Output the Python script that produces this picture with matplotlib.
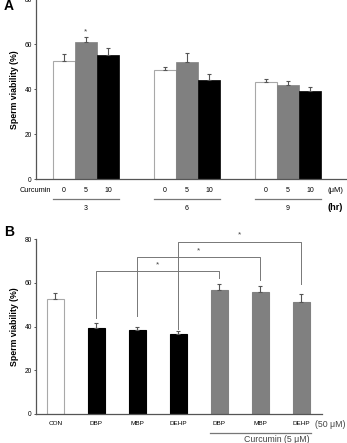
import matplotlib
matplotlib.use("Agg")
import matplotlib.pyplot as plt
import matplotlib.transforms as mtransforms
import numpy as np

plt.rcParams['font.family'] = ['Liberation Sans', 'DejaVu Sans']

# ---- data: panel A (sperm viability vs curcumin over time) ----
a_hours = ['3', '6', '9']
a_doses = ['0', '5', '10']
a_mean_0 = [52.6, 48.4, 43.3]
a_mean_5 = [60.8, 52.2, 42.0]
a_mean_10 = [55.1, 43.9, 39.0]
a_err_0 = [2.9, 1.3, 1.1]
a_err_5 = [2.5, 3.7, 1.7]
a_err_10 = [3.0, 2.7, 2.1]
a_star_y = 65.5  # star over 5 uM at 3 hr

# ---- data: panel B (phthalates +/- curcumin) ----
b_labels = ['CON', 'DBP', 'MBP', 'DEHP', 'DBP', 'MBP', 'DEHP']
b_mean = [52.6, 39.2, 38.5, 36.6, 56.6, 55.7, 51.2]
b_err = [2.6, 2.3, 1.4, 1.3, 3.0, 2.7, 3.7]
b_pairs = [(1, 4), (2, 5), (3, 6)]
b_bracket_top = [65.5, 72.0, 78.9]
b_leg_left = [44.0, 45.0, 39.0]
b_leg_right = [62.1, 61.3, 59.4]

W, H = 347, 443
fig = plt.figure(figsize=(W / 100, H / 100), dpi=100)


def fx(px):
    return px / W


def fy(py):
    return 1 - py / H


SPINE = '#555555'
GREY = '#808080'


def style_axes(ax):
    for s in ['top', 'right']:
        ax.spines[s].set_visible(False)
    for s in ['left', 'bottom']:
        ax.spines[s].set_color(SPINE)
        ax.spines[s].set_linewidth(0.9)
    ax.set_ylim(0, 80)
    ax.set_yticks([0, 20, 40, 60, 80])
    ax.tick_params(axis='y', length=1.8, width=0.7, color=SPINE, pad=1.2, labelsize=4.8)
    ax.tick_params(axis='x', length=0)


# ================= Panel A =================
axA = fig.add_axes([fx(36), fy(179.3), fx(311), (180.3) / H])
style_axes(axA)
axA.set_xlim(-0.495, 2.584)
bw = 0.218
x = np.arange(len(a_hours))
err_kw = dict(ecolor=SPINE, elinewidth=0.8, capsize=1.2, capthick=0.8)
axA.bar(x - bw, a_mean_0, bw, color='white', edgecolor='#a8a8a8', linewidth=0.8,
        yerr=[np.zeros(3), a_err_0], error_kw=err_kw, zorder=2)
axA.bar(x, a_mean_5, bw, color=GREY, edgecolor=GREY, linewidth=0.5,
        yerr=[np.zeros(3), a_err_5], error_kw=err_kw, zorder=2)
axA.bar(x + bw, a_mean_10, bw, color='black', edgecolor='black', linewidth=0.5,
        yerr=[np.zeros(3), a_err_10], error_kw=err_kw, zorder=2)
axA.text(x[0], a_star_y, '*', ha='center', va='center', fontsize=6, color='#444444')

ticks = np.concatenate([x - bw, x, x + bw])
labels = [a_doses[0]] * 3 + [a_doses[1]] * 3 + [a_doses[2]] * 3
axA.set_xticks(ticks)
axA.set_xticklabels(labels, fontsize=5)
axA.tick_params(axis='x', pad=5.2)

trA = mtransforms.blended_transform_factory(axA.transData, axA.transAxes)
for i, h in enumerate(a_hours):
    axA.plot([x[i] - 1.5 * bw, x[i] + 1.5 * bw], [-19.4 / 180.3] * 2, color='#777777',
             lw=0.9, transform=trA, clip_on=False)
    axA.text(x[i], -28.7 / 180.3, h, ha='center', va='center', fontsize=5,
             transform=trA)

fig.text(fx(35), fy(190), 'Curcumin', ha='center', va='center', fontsize=5.3)
fig.text(fx(335), fy(190), '(\u03bcM)', ha='center', va='center', fontsize=5.5)
fig.text(fx(335), fy(208), '(hr)', ha='center', va='center', fontsize=6.5, fontweight='bold')
axA.set_ylabel('Sperm viability (%)', fontsize=6.3, fontweight='bold', labelpad=4)
fig.text(fx(9), fy(6), 'A', ha='center', va='center', fontsize=10, fontweight='bold')

# ================= Panel B =================
axB = fig.add_axes([fx(36), fy(413.7), fx(285.7), 174.4 / H])
style_axes(axB)
xb = np.arange(len(b_labels))
axB.set_xlim(-0.47, 6.5)
colors = ['white', 'black', 'black', 'black', GREY, GREY, GREY]
edges = ['#a8a8a8', 'black', 'black', 'black', GREY, GREY, GREY]
axB.bar(xb, b_mean, 0.415, color=colors, edgecolor=edges, linewidth=0.8,
        yerr=[np.zeros(len(b_err)), b_err], error_kw=err_kw, zorder=2)
axB.set_xticks(xb)
axB.set_xticklabels(b_labels, fontsize=4.6)
axB.tick_params(axis='x', pad=5.5)

for (i, j), top, ll, lr in zip(b_pairs, b_bracket_top, b_leg_left, b_leg_right):
    axB.plot([xb[i], xb[i], xb[j], xb[j]], [ll, top, top, lr], color='#777777',
             lw=0.7, clip_on=False, zorder=3)
    axB.text((xb[i] + xb[j]) / 2, top + 2.9, '*', ha='center', va='center',
             fontsize=6, color='#444444')

trB = mtransforms.blended_transform_factory(axB.transData, axB.transAxes)
axB.plot([xb[4] - 0.22, xb[6] + 0.25], [-19 / 174.4] * 2, color='#777777', lw=0.9,
         transform=trB, clip_on=False)
fig.text(fx(330), fy(424.7), '(50 \u03bcM)', ha='center', va='center', fontsize=6.3,
         color='#444444')
fig.text(fx(276.7), fy(435.5), 'Curcumin (5 \u03bcM)', ha='center', va='top', fontsize=6.3,
         color='#444444')
axB.set_ylabel('Sperm viability (%)', fontsize=6.3, fontweight='bold', labelpad=4)
fig.text(fx(9), fy(232.5), 'B', ha='center', va='center', fontsize=10, fontweight='bold')

fig.savefig('out.png', dpi=100)
